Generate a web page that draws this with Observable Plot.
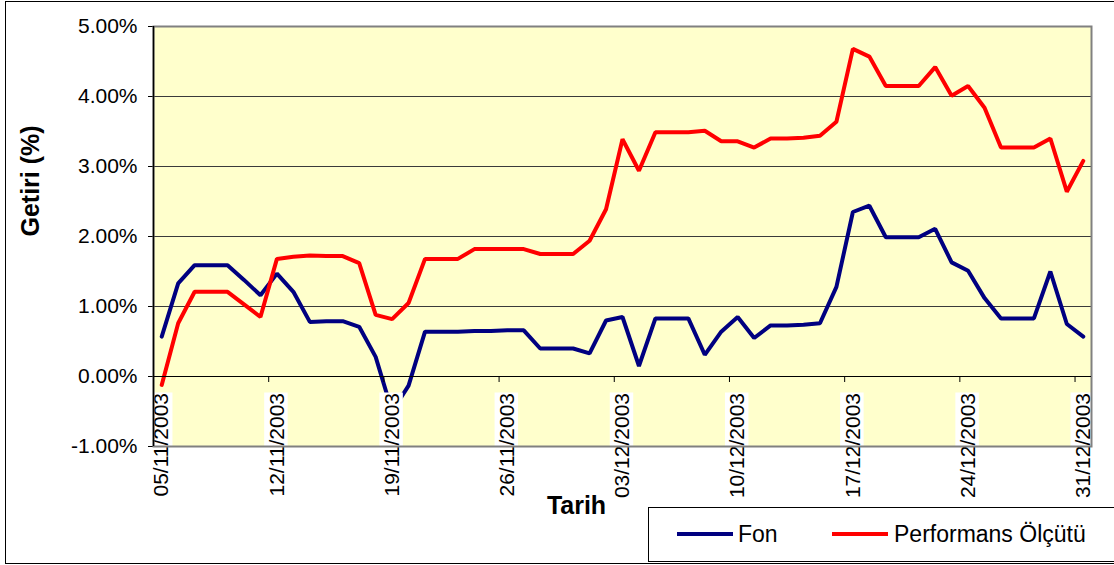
<!DOCTYPE html>
<html>
<head>
<meta charset="utf-8">
<script src="https://cdn.jsdelivr.net/npm/d3@7"></script>
<script src="https://cdn.jsdelivr.net/npm/@observablehq/plot@0.6"></script>
<style>
html, body { margin: 0; padding: 0; background: #fff; }
#wrap { position: relative; width: 1114px; height: 565px; overflow: hidden; font-family: Arial, "Liberation Sans", sans-serif; }
#chart { position: absolute; left: 0; top: 0; }
#border { position: absolute; left: 5px; top: 1px; width: 1200px; height: 563px; border: 1px solid #000; box-sizing: border-box; pointer-events: none; }
#legend { position: absolute; left: 648px; top: 507px; width: 600px; height: 55px; border: 1px solid #000; box-sizing: border-box; background: #fff; }
.sw { position: absolute; top: 24px; width: 56px; height: 4px; }
.lt { position: absolute; top: 12px; font-size: 23px; line-height: 28px; color: #000; white-space: nowrap; }
</style>
</head>
<body>
<div id="wrap">
  <div id="chart"></div>
  <div id="border"></div>
  <div id="legend"></div>
</div>
<script>
// ---- data ----
const dates = [
  "2003-11-05","2003-11-06","2003-11-07","2003-11-08","2003-11-09","2003-11-10","2003-11-11",
  "2003-11-12","2003-11-13","2003-11-14","2003-11-15","2003-11-16","2003-11-17","2003-11-18",
  "2003-11-19","2003-11-20","2003-11-21","2003-11-22","2003-11-23","2003-11-24","2003-11-25",
  "2003-11-26","2003-11-27","2003-11-28","2003-11-29","2003-11-30","2003-12-01","2003-12-02",
  "2003-12-03","2003-12-04","2003-12-05","2003-12-06","2003-12-07","2003-12-08","2003-12-09",
  "2003-12-10","2003-12-11","2003-12-12","2003-12-13","2003-12-14","2003-12-15","2003-12-16",
  "2003-12-17","2003-12-18","2003-12-19","2003-12-20","2003-12-21","2003-12-22","2003-12-23",
  "2003-12-24","2003-12-25","2003-12-26","2003-12-27","2003-12-28","2003-12-29","2003-12-30",
  "2003-12-31"
];
const fon = [
  0.57, 1.33, 1.59, 1.59, 1.59, 1.38, 1.16,
  1.47, 1.21, 0.78, 0.79, 0.79, 0.71, 0.28,
  -0.50, -0.13, 0.64, 0.64, 0.64, 0.65, 0.65,
  0.66, 0.66, 0.40, 0.40, 0.40, 0.33, 0.80,
  0.85, 0.15, 0.83, 0.83, 0.83, 0.31, 0.64,
  0.85, 0.55, 0.73, 0.73, 0.74, 0.76, 1.28,
  2.35, 2.44, 1.99, 1.99, 1.99, 2.11, 1.63,
  1.51, 1.12, 0.83, 0.83, 0.83, 1.50, 0.75,
  0.57
];
const perf = [
  -0.12, 0.76, 1.21, 1.21, 1.21, 1.03, 0.85,
  1.68, 1.71, 1.73, 1.72, 1.72, 1.62, 0.88,
  0.82, 1.05, 1.68, 1.68, 1.68, 1.82, 1.82,
  1.82, 1.82, 1.75, 1.75, 1.75, 1.94, 2.39,
  3.39, 2.94, 3.49, 3.49, 3.49, 3.51, 3.36,
  3.36, 3.27, 3.40, 3.40, 3.41, 3.44, 3.64,
  4.68, 4.57, 4.15, 4.15, 4.15, 4.42, 4.01,
  4.15, 3.84, 3.27, 3.27, 3.27, 3.40, 2.64,
  3.08
];
const seriesNames = ["Fon", "Performans Ölçütü"];
const seriesColors = ["#000080", "#FF0000"];
const tickLabels = ["05/11/2003","12/11/2003","19/11/2003","26/11/2003","03/12/2003","10/12/2003","17/12/2003","24/12/2003","31/12/2003"];
const yTicks = [-1, 0, 1, 2, 3, 4, 5];
const xTitle = "Tarih";
const yTitle = "Getiri (%)";

// ---- helpers ----
const dayStart = s => new Date(s + "T00:00:00Z");
const noon = s => d3.utcHour.offset(dayStart(s), 12);
const parseLabel = s => { const [d, m, y] = s.split("/").map(Number); return new Date(Date.UTC(y, m - 1, d)); };

const rows = [];
dates.forEach((d, i) => {
  rows.push({date: noon(d), value: fon[i], series: seriesNames[0]});
  rows.push({date: noon(d), value: perf[i], series: seriesNames[1]});
});
const xStart = dayStart(dates[0]);
const xEnd = d3.utcDay.offset(dayStart(dates[dates.length - 1]), 1);

const chart = Plot.plot({
  width: 1114,
  height: 565,
  marginLeft: 153,
  marginRight: 23,
  marginTop: 26,
  marginBottom: 119,
  style: {fontFamily: "Arial, 'Liberation Sans', sans-serif", fontSize: "21px", color: "#000", background: "transparent", overflow: "visible"},
  x: {type: "utc", domain: [xStart, xEnd], axis: null},
  y: {domain: [yTicks[0], yTicks[yTicks.length - 1]], ticks: yTicks, tickFormat: d => d.toFixed(2) + "%", tickSize: 5, tickPadding: 11, label: null},
  color: {domain: seriesNames, range: seriesColors},
  marks: [
    Plot.frame({fill: "#FFFFCC"}),
    Plot.ruleY(yTicks, {stroke: "#3a3a3a", strokeWidth: 1}),
    Plot.line(rows, {x: "date", y: "value", z: "series", stroke: "series", strokeWidth: 4, strokeLinejoin: "miter"}),
    Plot.rect(tickLabels, {x1: d => parseLabel(d), x2: d => d3.utcDay.offset(parseLabel(d), 1), y1: yTicks[0], y2: 0, insetTop: 16.5, insetLeft: -4, insetRight: -3, fill: "white"}),
    Plot.text(tickLabels, {x: d => d3.utcHour.offset(parseLabel(d), 12), y: 0, text: d => d, rotate: -90, textAnchor: "end", dy: 16.5, fontSize: 21, fill: "#000"}),
    Plot.frame({stroke: "#808080", strokeWidth: 2}),
    Plot.ruleY([0], {stroke: "#000", strokeWidth: 1}),
    Plot.ruleX(tickLabels, {x: d => parseLabel(d), y1: 0, y2: 0, insetBottom: -6, stroke: "#000"}),
    Plot.ruleX([xStart], {stroke: "#000", strokeWidth: 1.5}),
    Plot.text([yTitle], {text: d => d, frameAnchor: "left", dx: -123, rotate: -90, fontSize: 25, fontWeight: "bold", fill: "#000"}),
    Plot.text([xTitle], {text: d => d, frameAnchor: "bottom", dx: -46, dy: 67, fontSize: 25, fontWeight: "bold", fill: "#000"})
  ]
});
document.getElementById("chart").appendChild(chart);

// legend
const legend = document.getElementById("legend");
const swLeft = [28, 183], txtLeft = [89, 245];
seriesNames.forEach((name, i) => {
  const sw = document.createElement("div");
  sw.className = "sw";
  sw.style.left = swLeft[i] + "px";
  sw.style.background = seriesColors[i];
  legend.appendChild(sw);
  const t = document.createElement("div");
  t.className = "lt";
  t.style.left = txtLeft[i] + "px";
  t.textContent = name;
  legend.appendChild(t);
});
</script>
</body>
</html>
